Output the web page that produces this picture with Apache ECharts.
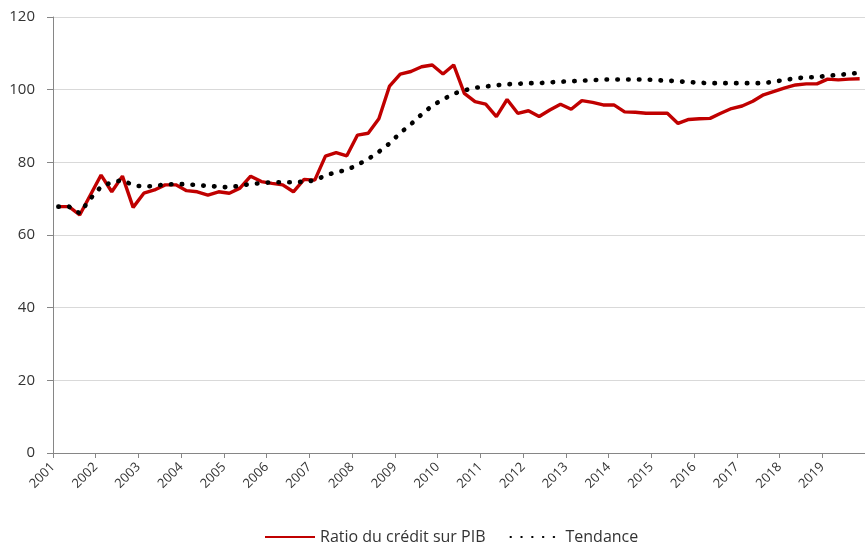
<!DOCTYPE html>
<html>
<head>
<meta charset="utf-8">
<script src="https://cdn.jsdelivr.net/npm/echarts@6/dist/echarts.min.js"></script>
<style>html,body{margin:0;padding:0;background:#fff}#c{width:865px;height:544px}</style>
</head>
<body>
<div id="c"></div>
<script>
// Years labelling the x axis (one label per year, 4 quarters each)
var years = [2001,2002,2003,2004,2005,2006,2007,2008,2009,2010,2011,2012,2013,2014,2015,2016,2017,2018,2019];
var quartersPerYear = 4;

// Ratio du crédit sur PIB (quarterly, 2001T1 .. 2019T4)
var ratioCredit = [
  67.8,67.8,65.5,71.0, 76.5,71.9,76.2,67.6, 71.5,72.4,73.8,73.8, 72.2,71.9,71.0,71.9,
  71.5,72.9,76.2,74.7, 74.2,73.8,71.9,75.3, 75.1,81.7,82.7,81.8, 87.5,88.0,92.0,101.0,
  104.3,105.0,106.3,106.8, 104.3,106.8,99.0,96.7, 96.0,92.6,97.3,93.5, 94.2,92.6,94.4,96.0,
  94.6,97.0,96.5,95.8, 95.8,93.9,93.8,93.5, 93.5,93.5,90.7,91.8, 92.0,92.1,93.5,94.8,
  95.5,96.8,98.6,99.5, 100.5,101.3,101.6,101.6, 102.9,102.7,102.9,103.0
];

// Tendance (quarterly)
var tendance = [
  67.8,67.8,66.0,70.0, 73.3,74.5,75.1,73.7, 73.3,73.5,73.9,74.0, 74.0,73.7,73.5,73.3,
  73.1,73.6,74.0,74.3, 74.5,74.5,74.5,74.7, 75.0,76.4,77.3,77.9, 79.3,80.9,82.9,85.2,
  88.1,90.5,93.2,95.6, 97.3,98.9,99.8,100.5, 100.9,101.2,101.5,101.6, 101.8,101.8,102.0,102.2,
  102.3,102.5,102.6,102.8, 102.8,102.8,102.8,102.8, 102.6,102.5,102.3,102.1, 101.9,101.8,101.8,101.8,
  101.8,101.8,101.8,102.2, 102.7,103.1,103.4,103.4, 103.9,104.0,104.4,104.6
];

var yTicks = {min: 0, max: 120, interval: 20};

function toPairs(arr){ return arr.map(function(v,i){ return [i + 0.5, v]; }); }
var nQ = years.length * quartersPerYear;

var chart = echarts.init(document.getElementById('c'), null, {renderer:'canvas'});
var font = '"Open Sans", "Noto Sans", sans-serif';
chart.setOption({
  animation: false,
  backgroundColor: '#fff',
  grid: {left: 53, top: 17, width: 818.5, height: 436, containLabel: false},
  xAxis: {
    type: 'value', min: 0, max: nQ, interval: quartersPerYear,
    axisLine: {show: true, lineStyle: {color: '#868686', width: 1}},
    axisTick: {show: true, length: 5, lineStyle: {color: '#868686'}},
    splitLine: {show: false},
    axisLabel: {
      rotate: 45, margin: 12, fontSize: 13, color: '#333', fontFamily: font,
      showMaxLabel: false,
      formatter: function(v){ var k = Math.round(v / quartersPerYear); return k < years.length ? String(years[k]) : ''; }
    }
  },
  yAxis: {
    type: 'value', min: yTicks.min, max: yTicks.max, interval: yTicks.interval,
    axisLine: {show: true, lineStyle: {color: '#868686', width: 1}},
    axisTick: {show: true, length: 6, lineStyle: {color: '#868686'}},
    splitLine: {show: true, lineStyle: {color: '#d9d9d9', width: 1}},
    axisLabel: {fontSize: 15, color: '#333', fontFamily: font, margin: 18}
  },
  legend: {
    left: 259, top: 524, itemWidth: 50, itemHeight: 14, itemGap: 24,
    itemStyle: {opacity: 0},
    textStyle: {fontSize: 16, color: '#333', fontFamily: font},
    data: ['Ratio du crédit sur PIB', 'Tendance']
  },
  series: [
    {
      name: 'Ratio du crédit sur PIB', type: 'line', data: toPairs(ratioCredit),
      symbol: 'none', color: '#c00000',
      lineStyle: {color: '#c00000', width: 3.4}, z: 2
    },
    {
      name: 'Tendance', type: 'line', data: toPairs(tendance),
      symbol: 'none', color: '#000',
      lineStyle: {color: '#000', width: 4.6, type: [0.5, 10.3], cap: 'round'}, z: 3
    }
  ]
});
</script>
</body>
</html>
